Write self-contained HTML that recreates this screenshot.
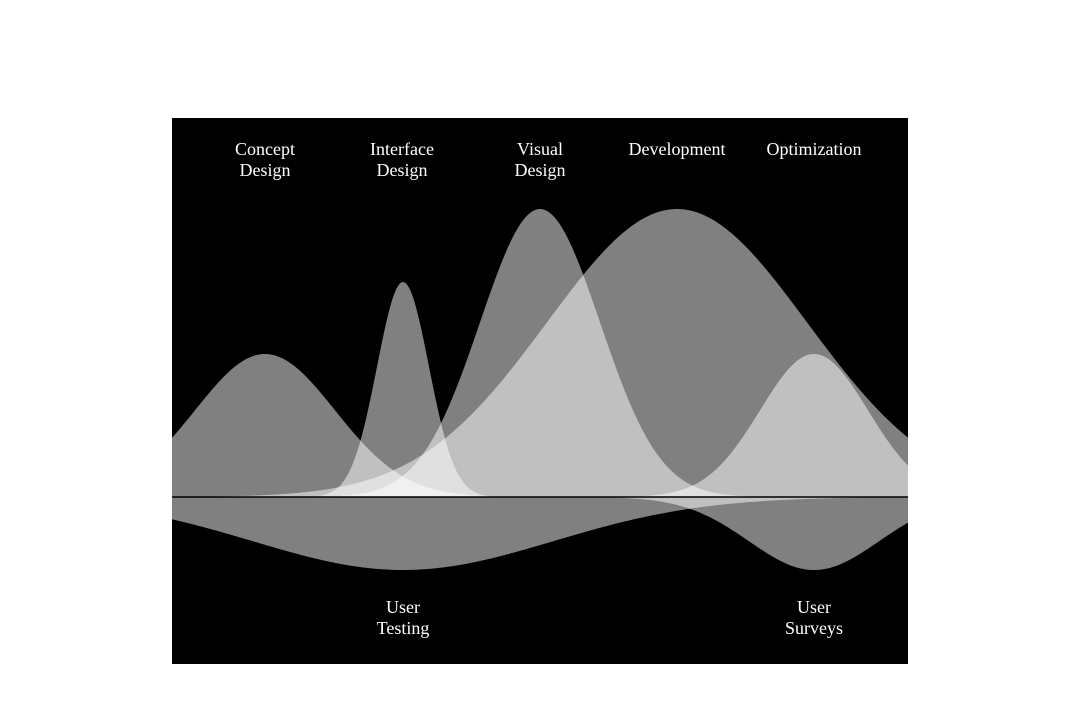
<!DOCTYPE html>
<html><head><meta charset="utf-8"><style>
html,body{margin:0;padding:0;background:#fff;}
svg{display:block;}
text{font-family:"Liberation Serif",serif;font-size:18px;fill:#fff;text-anchor:middle;}
</style></head><body>
<svg id="s" width="1080" height="710" viewBox="0 0 1080 710">
<rect x="172" y="118" width="736" height="546" fill="#000"/>
<g id="g"></g>
<line x1="172" y1="497" x2="908" y2="497" stroke="#000" stroke-width="1.5"/>
<text x="265" y="155">Concept</text><text x="265" y="176">Design</text>
<text x="402" y="155">Interface</text><text x="402" y="176">Design</text>
<text x="540" y="155">Visual</text><text x="540" y="176">Design</text>
<text x="677" y="155">Development</text>
<text x="814" y="155">Optimization</text>
<text x="403" y="613">User</text><text x="403" y="634">Testing</text>
<text x="814" y="613">User</text><text x="814" y="634">Surveys</text>
</svg>
<script>
var curves=[[265,143,70,-1],[403,215,26,-1],[540,288,60,-1],[677,288,130,-1],[814,143,54,-1],[403,73,150,1],[814,73,65,1]];
var g=document.getElementById('g'),h='';
curves.forEach(function(c){
 var d='M172 497';
 for(var x=172;x<=908;x+=2){var y=497+c[3]*c[1]*Math.exp(-(x-c[0])*(x-c[0])/(2*c[2]*c[2]));d+=' L'+x+' '+y.toFixed(2);}
 d+=' L908 497 Z';
 h+='<path d="'+d+'" fill="#fff" fill-opacity="0.5"/>';
});
g.innerHTML=h;
</script>
</body></html>
